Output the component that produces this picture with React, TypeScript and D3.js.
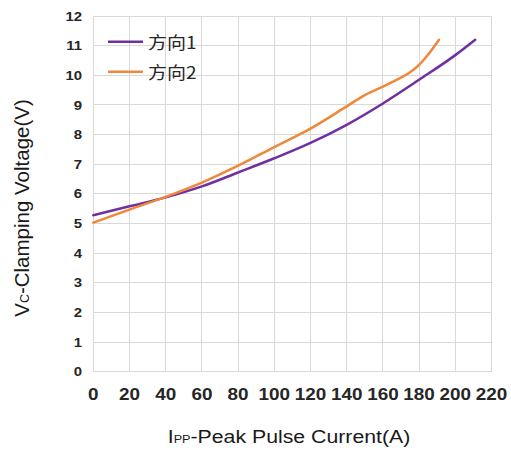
import React from "react";
import * as d3 from "d3";

// Clamping voltage vs. peak pulse current, two polarities
const dir1Current = [0, 20, 40, 60, 80, 100, 120, 140, 160, 180, 200, 211];
const dir1Voltage = [5.28, 5.58, 5.88, 6.25, 6.72, 7.2, 7.72, 8.33, 9.05, 9.85, 10.68, 11.2];
const dir2Current = [0, 20, 40, 60, 80, 100, 120, 140, 150, 160, 170, 175, 180, 185, 191];
const dir2Voltage = [5.03, 5.47, 5.9, 6.38, 6.95, 7.58, 8.2, 8.95, 9.33, 9.62, 9.92, 10.1, 10.35, 10.7, 11.2];

const xTicks = [0, 20, 40, 60, 80, 100, 120, 140, 160, 180, 200, 220];
const yTicks = [0, 1, 2, 3, 4, 5, 6, 7, 8, 9, 10, 11, 12];
const seriesNames = ["方向1", "方向2"];
const seriesColors = ["#7030a0", "#f0883a"];

const W = 511;
const H = 450;

export default function App() {
  const x = d3.scaleLinear().domain([0, 220]).range([93.3, 491.5]);
  const y = d3.scaleLinear().domain([0, 12]).range([371.7, 16]);

  const line = d3
    .line<[number, number]>()
    .x((d) => x(d[0]))
    .y((d) => y(d[1]))
    .curve(d3.curveMonotoneX);

  const series: [number, number][][] = [
    dir1Current.map((c, i) => [c, dir1Voltage[i]]),
    dir2Current.map((c, i) => [c, dir2Voltage[i]]),
  ];

  const font = "'Liberation Sans', Arial, sans-serif";

  return (
    <svg
      width={W}
      height={H}
      style={{ position: "absolute", left: 0, top: 0, background: "#fff" }}
      fontFamily={font}
    >
      {/* grid */}
      <g stroke="#d9d9d9" strokeWidth={1} shapeRendering="crispEdges">
        {xTicks.map((t) => (
          <line key={"gx" + t} x1={x(t)} x2={x(t)} y1={y(0)} y2={y(12)} />
        ))}
        {yTicks.map((t) => (
          <line key={"gy" + t} x1={x(0)} x2={x(220)} y1={y(t)} y2={y(t)} />
        ))}
      </g>

      {/* y tick labels */}
      <g fontWeight="bold" fontSize={13} fill="#262626">
        {yTicks.map((t) => (
          <text
            key={"ty" + t}
            transform={`translate(82,${y(t)}) scale(1.15,1)`}
            textAnchor="end"
            dominantBaseline="central"
          >
            {t}
          </text>
        ))}
      </g>

      {/* x tick labels */}
      <g fontWeight="bold" fontSize={16} fill="#262626">
        {xTicks.map((t) => (
          <text
            key={"tx" + t}
            transform={`translate(${x(t)},400) scale(1.18,1)`}
            textAnchor="middle"
          >
            {t}
          </text>
        ))}
      </g>

      {/* series */}
      {series.map((s, i) => (
        <path
          key={"s" + i}
          d={line(s) ?? ""}
          fill="none"
          stroke={seriesColors[i]}
          strokeWidth={2.5}
          strokeLinejoin="round"
          strokeLinecap="round"
        />
      ))}

      {/* legend */}
      {seriesNames.map((n, i) => (
        <g key={"lg" + i} transform={`translate(0,${41.7 + i * 30})`}>
          <line x1={108} x2={143} y1={0} y2={0} stroke={seriesColors[i]} strokeWidth={2.5} />
          <text
            transform="translate(148,0) scale(1.12,1)"
            dominantBaseline="central"
            fontSize={17}
            fill="#262626"
            fontFamily={"'Noto Sans CJK SC', " + font}
          >
            {n}
          </text>
        </g>
      ))}

      {/* axis titles */}
      <text
        transform="translate(289,443) scale(1.15,1)"
        textAnchor="middle"
        fontSize={18.5}
        fill="#1a1a1a"
      >
        I<tspan fontSize={11}>PP</tspan>-Peak Pulse Current(A)
      </text>
      <text
        transform="translate(29,208) rotate(-90)"
        textAnchor="middle"
        fontSize={20.5}
        fill="#1a1a1a"
      >
        V<tspan fontSize={12.5}>C</tspan>-Clamping Voltage(V)
      </text>
    </svg>
  );
}
